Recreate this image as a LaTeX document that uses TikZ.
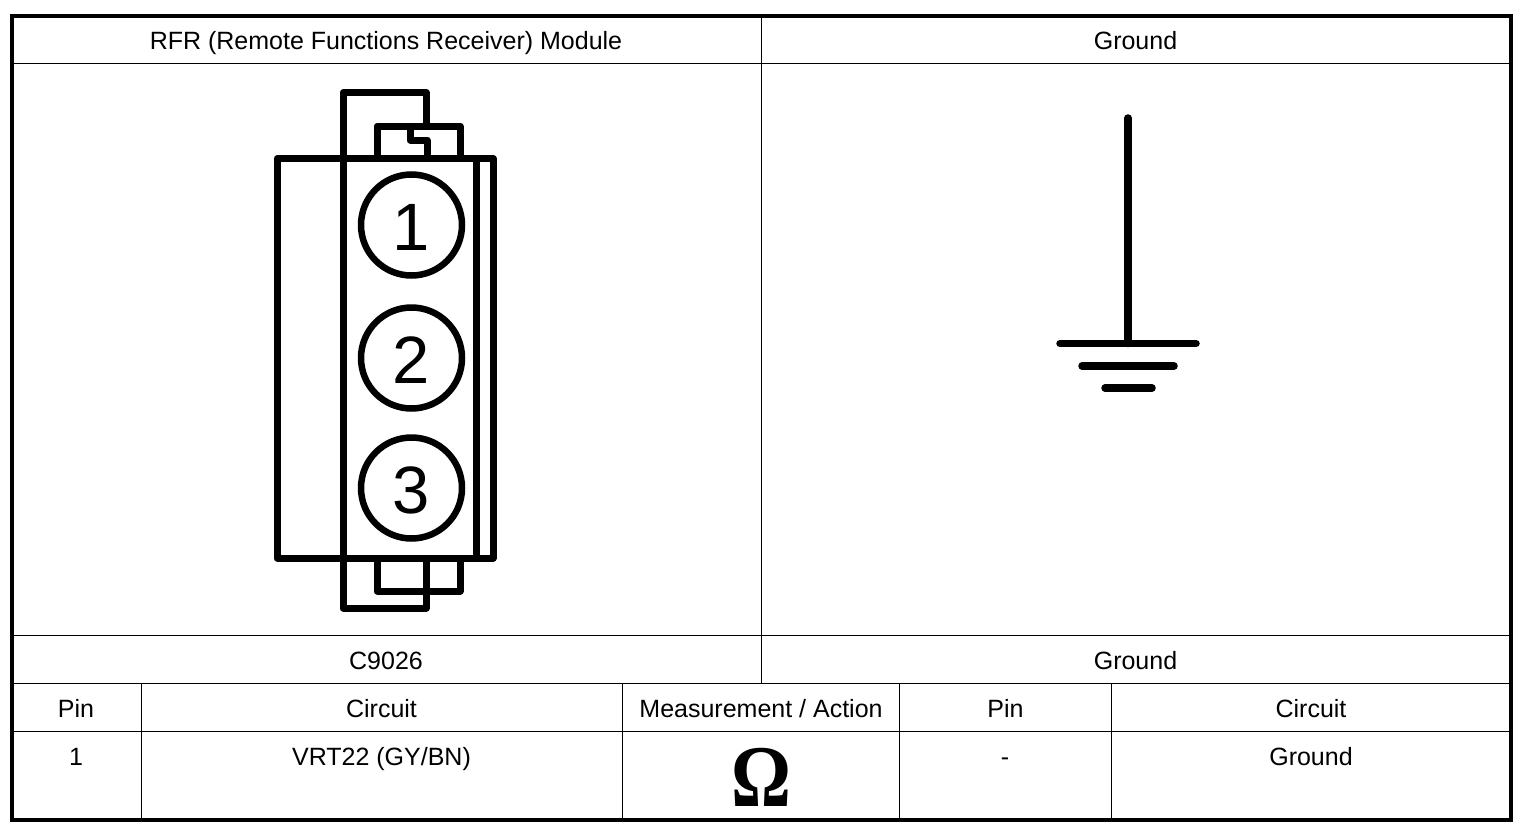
\documentclass[tikz,border=0pt]{standalone}
\usepackage{fontspec}
\setmainfont{Liberation Sans}
\newfontfamily\omegafont{Liberation Serif}
\usetikzlibrary{calc}
\tikzset{
    frame/.style={line width=4pt,line join=miter},
    grid/.style={line width=1.3pt},
    part/.style={line width=7pt,line join=round},
    earth/.style={line width=7.5pt,line cap=round},
    pin/.style={circle,draw=black,fill=none,line width=6.5pt,minimum size=101pt,inner sep=0pt,text height=50pt,text depth=0pt,font=\fontsize{67}{67}\selectfont},
    cell/.style={anchor=base,inner sep=0pt,font=\fontsize{25}{25}\selectfont}
}

\begin{document}
\begin{tikzpicture}[x=1pt,y=-1pt]
        \useasboundingbox (0,0) rectangle (1526,830);
        % table
        \draw[grid] (11,63.5) -- (1511,63.5);
        \draw[grid] (11,635.5) -- (1511,635.5);
        \draw[grid] (11,683.5) -- (1511,683.5);
        \draw[grid] (11,731.5) -- (1511,731.5);
        \draw[grid] (761.5,16) -- (761.5,683.5);
        \draw[grid] (141.5,683.5) -- (141.5,820);
        \draw[grid] (622.5,683.5) -- (622.5,820);
        \draw[grid] (899.5,683.5) -- (899.5,820);
        \draw[grid] (1111.5,683.5) -- (1111.5,820);
        \draw[frame] (11.5,16) rectangle (1511,820);
        % headings
        \node[cell] (module) at (386,49) {RFR (Remote Functions Receiver) Module};
        \node[cell] (groundhead) at (1135.5,49) {Ground};
        \node[cell] (connector) at (386,669) {C9026};
        \node[cell] (groundname) at (1135.5,669) {Ground};
        \node[cell] (pinhead) at (76,717) {Pin};
        \node[cell] (circuithead) at (381.5,717) {Circuit};
        \node[cell] (action) at (761,717) {Measurement / Action};
        \node[cell] (pinheadb) at (1005.5,717) {Pin};
        \node[cell] (circuitheadb) at (1311,717) {Circuit};
        \node[cell] (pinval) at (76,765) {1};
        \node[cell] (circuitval) at (381.5,765) {VRT22 (GY/BN)};
        \node[cell] (pinvalb) at (1005,765) {-};
        \node[cell] (circuitvalb) at (1311,765) {Ground};
        \node[anchor=base,inner sep=0pt,transform shape,xscale=.85,font=\omegafont\bfseries\fontsize{88}{88}\selectfont] (ohm) at (761,806) {\char"03A9};
        % connector
        \draw[part] (277,158.5) rectangle (493,558);
        \draw[part] (343,158.5) -- (343,92.5) -- (426,92.5) -- (426,126);
        \draw[part] (377,158.5) -- (377,126) -- (460,126) -- (460,158.5);
        \draw[part] (410,126) -- (410,140) -- (427,140) -- (427,158.5);
        \draw[part] (343,158.5) -- (343,608) -- (426,608) -- (426,558);
        \draw[part] (377,558) -- (377,591) -- (460,591) -- (460,558);
        \draw[part] (476.5,158.5) -- (476.5,558);
        \node[pin] (pin1) at (411.5,225) {1};
        \node[pin] (pin2) at (411.5,358) {2};
        \node[pin] (pin3) at (411.5,488) {3};
        % ground symbol
        \draw[earth] (1128,118) -- (1128,343.5);
        \draw[earth] (1060,343.5) -- (1196,343.5);
        \draw[earth] (1082,366) -- (1174,366);
        \draw[earth] (1105,388) -- (1152,388);
\end{tikzpicture}
\end{document}
